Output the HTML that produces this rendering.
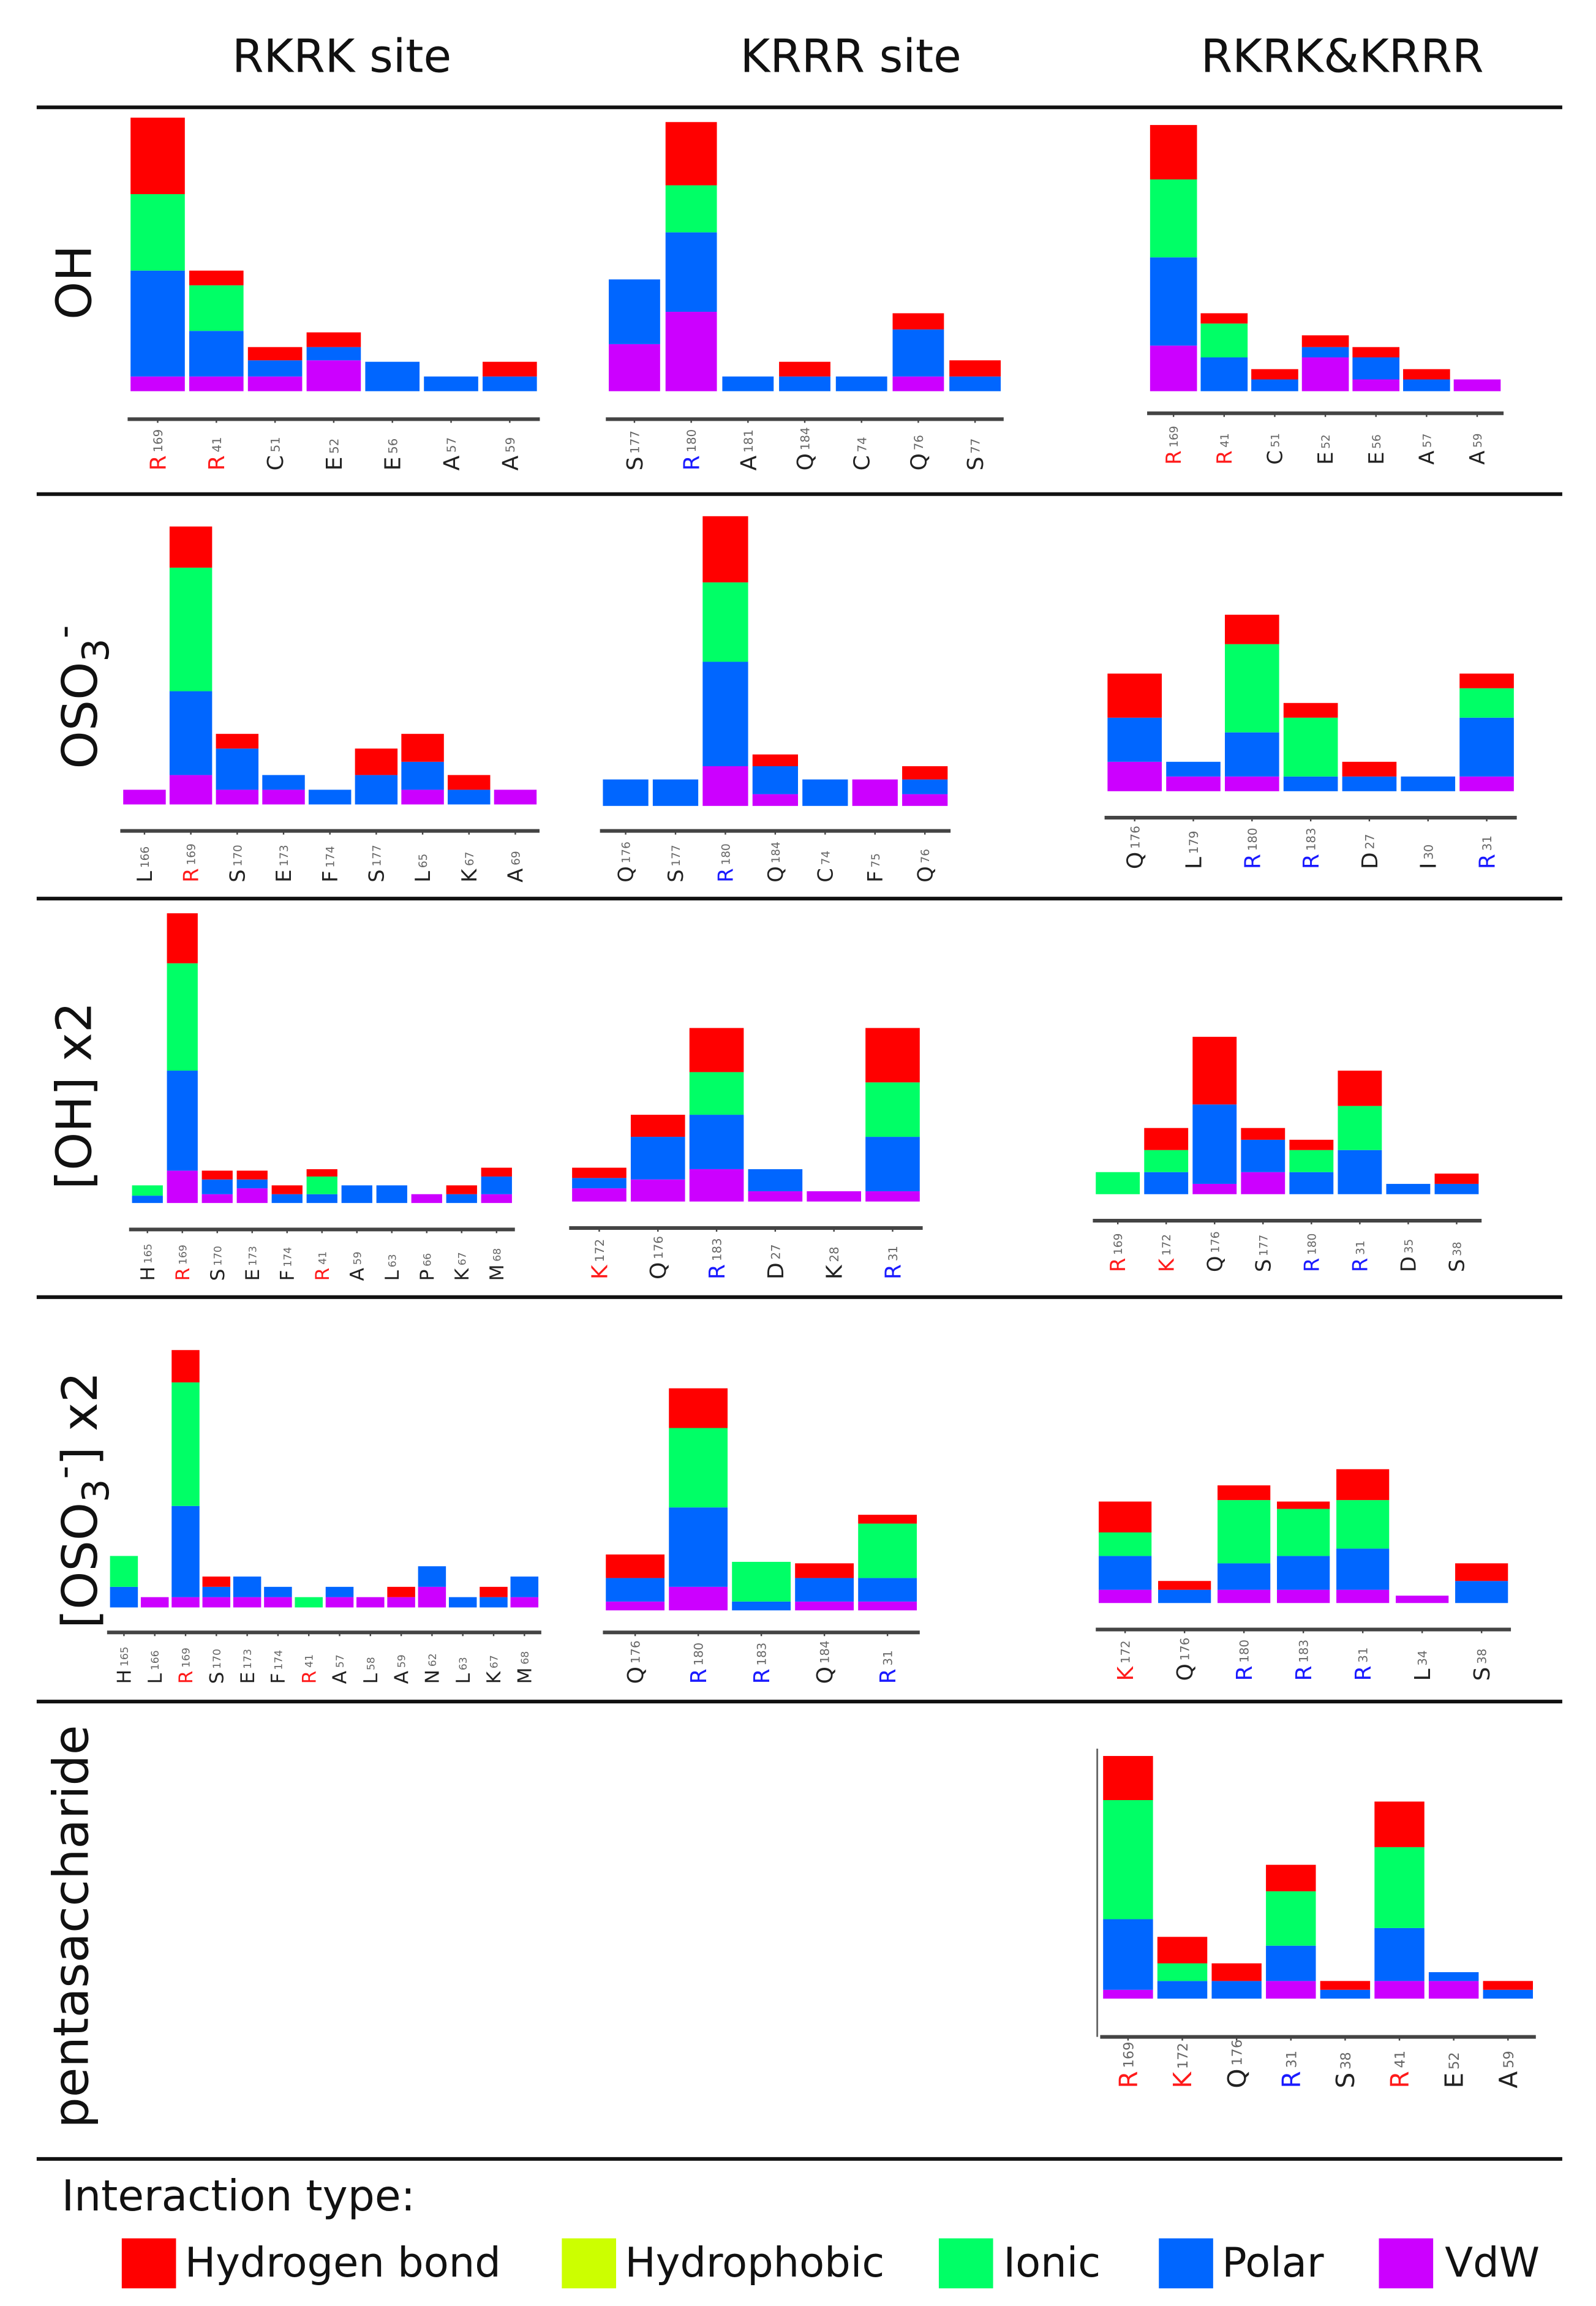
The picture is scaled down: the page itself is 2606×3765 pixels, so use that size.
<!DOCTYPE html>
<html>
<head>
<meta charset="utf-8">
<style>
html,body{margin:0;padding:0;background:#fff;}
svg{display:block;}
text{font-family:"DejaVu Sans","Liberation Sans",sans-serif;}
</style>
</head>
<body>
<svg id="fig" xmlns="http://www.w3.org/2000/svg" width="2606" height="3765" viewBox="0 0 1088 1568" preserveAspectRatio="none">
  <rect x="0" y="0" width="1088" height="1568" fill="#fff"/>
  <g font-size="31" text-anchor="middle" fill="#111">
    <text x="233" y="49">RKRK site</text>
    <text x="580" y="49">KRRR site</text>
    <text x="915" y="49">RKRK&amp;KRRR</text>
  </g>
  <g stroke="#111" stroke-width="2.5">
    <line x1="25" y1="73" x2="1065" y2="73"/>
    <line x1="25" y1="336" x2="1065" y2="336"/>
    <line x1="25" y1="611" x2="1065" y2="611"/>
    <line x1="25" y1="882" x2="1065" y2="882"/>
    <line x1="25" y1="1157" x2="1065" y2="1157"/>
    <line x1="25" y1="1468" x2="1065" y2="1468"/>
  </g>
  <g font-size="33" text-anchor="middle" fill="#111">
    <text transform="translate(62,192) rotate(-90)">OH</text>
    <text transform="translate(66,474) rotate(-90)">OSO<tspan font-size="25" dy="8">3</tspan><tspan font-size="25" dy="-22">-</tspan></text>
    <text transform="translate(62,745) rotate(-90)">[OH] x2</text>
    <text transform="translate(66,1020) rotate(-90)">[OSO<tspan font-size="25" dy="8">3</tspan><tspan font-size="25" dy="-22">-</tspan><tspan dy="14">] x2</tspan></text>
    <text transform="translate(60,1310) rotate(-90)">pentasaccharide</text>
  </g>
  <g id="charts"></g>
  <g>
    <text x="42" y="1503" font-size="29" fill="#111">Interaction type:</text>
    <rect x="83" y="1522" width="37" height="34" fill="#ff0000"/>
    <text x="126" y="1548" font-size="28" fill="#111">Hydrogen bond</text>
    <rect x="383" y="1522" width="37" height="34" fill="#ccff00"/>
    <text x="426" y="1548" font-size="28" fill="#111">Hydrophobic</text>
    <rect x="640" y="1522" width="37" height="34" fill="#00ff66"/>
    <text x="684" y="1548" font-size="28" fill="#111">Ionic</text>
    <rect x="790" y="1522" width="37" height="34" fill="#0066ff"/>
    <text x="833" y="1548" font-size="28" fill="#111">Polar</text>
    <rect x="940" y="1522" width="37" height="34" fill="#cc00ff"/>
    <text x="985" y="1548" font-size="28" fill="#111">VdW</text>
  </g>
</svg>
<script>
// ---- data: residues, site category (r=RKRK red, b=KRRR blue, k=other), stacked values ----
const p1Res = ["R169","R41","C51","E52","E56","A57","A59"];
const p1Cat = ["r","r","k","k","k","k","k"];
const p1Vdw = [10,10,10,21,0,0,0];
const p1Polar = [72,31,11,9,20,10,10];
const p1Ionic = [52,31,0,0,0,0,0];
const p1Hbond = [52,10,9,10,0,0,10];

const p2Res = ["S177","R180","A181","Q184","C74","Q76","S77"];
const p2Cat = ["k","b","k","k","k","k","k"];
const p2Vdw = [32,54,0,0,0,10,0];
const p2Polar = [44,54,10,10,10,32,10];
const p2Ionic = [0,32,0,0,0,0,0];
const p2Hbond = [0,43,0,10,0,11,11];

const p3Res = ["R169","R41","C51","E52","E56","A57","A59"];
const p3Cat = ["r","r","k","k","k","k","k"];
const p3Vdw = [31,0,0,23,8,0,8];
const p3Polar = [60,23,8,7,15,8,0];
const p3Ionic = [53,23,0,0,0,0,0];
const p3Hbond = [37,7,7,8,7,7,0];

const p4Res = ["L166","R169","S170","E173","F174","S177","L65","K67","A69"];
const p4Cat = ["k","r","k","k","k","k","k","k","k"];
const p4Vdw = [10,20,10,10,0,0,10,0,10];
const p4Polar = [0,57,28,10,10,20,19,10,0];
const p4Ionic = [0,84,0,0,0,0,0,0,0];
const p4Hbond = [0,28,10,0,0,18,19,10,0];

const p5Res = ["Q176","S177","R180","Q184","C74","F75","Q76"];
const p5Cat = ["k","k","b","k","k","k","k"];
const p5Vdw = [0,0,27,8,0,18,8];
const p5Polar = [18,18,71,19,18,0,10];
const p5Ionic = [0,0,54,0,0,0,0];
const p5Hbond = [0,0,45,8,0,0,9];

const p6Res = ["Q176","L179","R180","R183","D27","I30","R31"];
const p6Cat = ["k","k","b","b","k","k","b"];
const p6Vdw = [20,10,10,0,0,0,10];
const p6Polar = [30,10,30,10,10,10,40];
const p6Ionic = [0,0,60,40,0,0,20];
const p6Hbond = [30,0,20,10,10,0,10];

const p7Res = ["H165","R169","S170","E173","F174","R41","A59","L63","P66","K67","M68"];
const p7Cat = ["k","r","k","k","k","r","k","k","k","k","k"];
const p7Vdw = [0,22,6,10,0,0,0,0,6,0,6];
const p7Polar = [5,68,10,6,6,6,12,12,0,6,12];
const p7Ionic = [7,73,0,0,0,12,0,0,0,0,0];
const p7Hbond = [0,34,6,6,6,5,0,0,0,6,6];

const p8Res = ["K172","Q176","R183","D27","K28","R31"];
const p8Cat = ["r","k","b","k","k","b"];
const p8Vdw = [9,15,22,7,7,7];
const p8Polar = [7,29,37,15,0,37];
const p8Ionic = [0,0,29,0,0,37];
const p8Hbond = [7,15,30,0,0,37];

const p9Res = ["R169","K172","Q176","S177","R180","R31","D35","S38"];
const p9Cat = ["r","r","k","k","b","b","k","k"];
const p9Vdw = [0,0,7,15,0,0,0,0];
const p9Polar = [0,15,54,22,15,30,7,7];
const p9Ionic = [15,15,0,0,15,30,0,0];
const p9Hbond = [0,15,46,8,7,24,0,7];

const p10Res = ["H165","L166","R169","S170","E173","F174","R41","A57","L58","A59","N62","L63","K67","M68"];
const p10Cat = ["k","k","r","k","k","k","r","k","k","k","k","k","k","k"];
const p10Vdw = [0,7,7,7,7,7,0,7,7,7,14,0,0,7];
const p10Polar = [14,0,62,7,14,7,0,7,0,0,14,7,7,14];
const p10Ionic = [21,0,84,0,0,0,7,0,0,0,0,0,0,0];
const p10Hbond = [0,0,22,7,0,0,0,0,0,7,0,0,7,0];

const p11Res = ["Q176","R180","R183","Q184","R31"];
const p11Cat = ["k","b","b","k","b"];
const p11Vdw = [6,16,0,6,6];
const p11Polar = [16,54,6,16,16];
const p11Ionic = [0,54,27,0,37];
const p11Hbond = [16,27,0,10,6];

const p12Res = ["K172","Q176","R180","R183","R31","L34","S38"];
const p12Cat = ["r","k","b","b","b","k","k"];
const p12Vdw = [9,0,9,9,9,5,0];
const p12Polar = [23,9,18,23,28,0,15];
const p12Ionic = [16,0,43,32,33,0,0];
const p12Hbond = [21,6,10,5,21,0,12];

const p13Res = ["R169","K172","Q176","R31","S38","R41","E52","A59"];
const p13Cat = ["r","r","k","b","k","r","k","k"];
const p13Vdw = [6,0,0,12,0,12,12,0];
const p13Polar = [48,12,12,24,6,36,6,6];
const p13Ionic = [81,12,0,37,0,55,0,0];
const p13Hbond = [30,18,12,18,6,31,0,6];

// ---- layout (not data) ----
const panels = [
  {name:"rkrk-oh", res:p1Res, cat:p1Cat, s:[p1Vdw,p1Polar,p1Ionic,p1Hbond], x0:89, pitch:40, w:37, base:266, axis:285, fs:15},
  {name:"krrr-oh", res:p2Res, cat:p2Cat, s:[p2Vdw,p2Polar,p2Ionic,p2Hbond], x0:415, pitch:38.7, w:35, base:266, axis:285, fs:15},
  {name:"both-oh", res:p3Res, cat:p3Cat, s:[p3Vdw,p3Polar,p3Ionic,p3Hbond], x0:784, pitch:34.5, w:32, base:266, axis:281, fs:14},
  {name:"rkrk-oso3", res:p4Res, cat:p4Cat, s:[p4Vdw,p4Polar,p4Ionic,p4Hbond], x0:84, pitch:31.6, w:29, base:547, axis:565, fs:14},
  {name:"krrr-oso3", res:p5Res, cat:p5Cat, s:[p5Vdw,p5Polar,p5Ionic,p5Hbond], x0:411, pitch:34, w:31, base:548, axis:565, fs:14},
  {name:"both-oso3", res:p6Res, cat:p6Cat, s:[p6Vdw,p6Polar,p6Ionic,p6Hbond], x0:755, pitch:40, w:37, base:538, axis:556, fs:15},
  {name:"rkrk-oh-x2", res:p7Res, cat:p7Cat, s:[p7Vdw,p7Polar,p7Ionic,p7Hbond], x0:90, pitch:23.8, w:21, base:818, axis:836, fs:13},
  {name:"krrr-oh-x2", res:p8Res, cat:p8Cat, s:[p8Vdw,p8Polar,p8Ionic,p8Hbond], x0:390, pitch:40, w:37, base:817, axis:835, fs:15},
  {name:"both-oh-x2", res:p9Res, cat:p9Cat, s:[p9Vdw,p9Polar,p9Ionic,p9Hbond], x0:747, pitch:33, w:30, base:812, axis:830, fs:14},
  {name:"rkrk-oso3-x2", res:p10Res, cat:p10Cat, s:[p10Vdw,p10Polar,p10Ionic,p10Hbond], x0:75, pitch:21, w:19, base:1093, axis:1110, fs:13},
  {name:"krrr-oso3-x2", res:p11Res, cat:p11Cat, s:[p11Vdw,p11Polar,p11Ionic,p11Hbond], x0:413, pitch:43, w:40, base:1095, axis:1110, fs:15},
  {name:"both-oso3-x2", res:p12Res, cat:p12Cat, s:[p12Vdw,p12Polar,p12Ionic,p12Hbond], x0:749, pitch:40.5, w:36, base:1090, axis:1108, fs:15},
  {name:"both-pentasaccharide", res:p13Res, cat:p13Cat, s:[p13Vdw,p13Polar,p13Ionic,p13Hbond], x0:752, pitch:37, w:34, base:1359, axis:1385, fs:17, yaxis:true}
];
const seriesNames = ["vdw","polar","ionic","hbond"];
const seriesColors = ["#cc00ff","#0066ff","#00ff66","#ff0000"];
const catColors = {r:"#ff1a1a", b:"#1a1aff", k:"#222"};
const NS = "http://www.w3.org/2000/svg";
const root = document.getElementById("charts");

function mk(tag, attrs, parent){
  const e = document.createElementNS(NS, tag);
  for (const k in attrs) e.setAttribute(k, attrs[k]);
  parent.appendChild(e);
  return e;
}

panels.forEach(p => {
  const g = mk("g", {}, root);
  
  
  const xPos = i => p.x0 + i * p.pitch;
  const yPos = v => p.base - v;
  const n = p.res.length;
  for (let i = 0; i < n; i++) {
    let cum = 0;
    for (let s = 0; s < 4; s++) {
      const v = p.s[s][i];
      if (v > 0) {
        const r = mk("rect", {x: xPos(i), y: yPos(cum + v), width: p.w, height: v, fill: seriesColors[s]}, g);
        
        
      }
      cum += v;
    }
  }
  const ax = mk("line", {x1: xPos(0) - 2, y1: p.axis, x2: xPos(n - 1) + p.w + 2, y2: p.axis, stroke: "#444", "stroke-width": 2.5}, g);
  
  
  if (p.yaxis) {
    const ya = mk("line", {x1: xPos(0) - 4, y1: p.base - 170, x2: xPos(0) - 4, y2: p.axis, stroke: "#666", "stroke-width": 1.2}, g);
    
    
  }
  for (let i = 0; i < n; i++) {
    const cx = xPos(i) + p.w / 2;
    const tk = mk("line", {x1: cx, y1: p.axis, x2: cx, y2: p.axis + 2.5, stroke: "#444", "stroke-width": 1}, g);
    
    
    const letter = p.res[i].charAt(0);
    const num = p.res[i].slice(1);
    const by = p.axis + 35;
    const t = mk("text", {transform: "translate(" + (cx + p.fs * 0.36) + "," + by + ") rotate(-90)", "font-size": p.fs}, g);
    
    
    const t1 = mk("tspan", {fill: catColors[p.cat[i]]}, t);
    t1.textContent = letter;
    const t2 = mk("tspan", {fill: "#666", "font-size": p.fs * 0.55, dx: 2, dy: -p.fs * 0.15}, t);
    t2.textContent = num;
  }
});
</script>
</body>
</html>
